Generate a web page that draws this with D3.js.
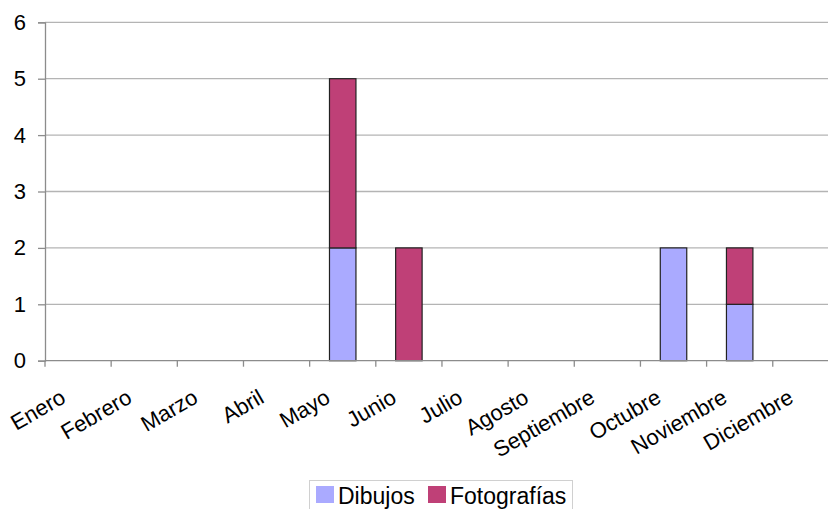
<!DOCTYPE html>
<html><head><meta charset="utf-8">
<script src="https://cdn.jsdelivr.net/npm/d3@7"></script>
<style>body{margin:0;background:#fff}svg{display:block}text{font-family:"Liberation Sans",Arial,sans-serif;fill:#000}</style>
</head><body><svg id="c" width="828" height="509"></svg>
<script>
const months = ["Enero","Febrero","Marzo","Abril","Mayo","Junio","Julio","Agosto","Septiembre","Octubre","Noviembre","Diciembre"];
const dibujos =     [0,0,0,0,2,0,0,0,0,2,1,0];
const fotografias = [0,0,0,0,3,2,0,0,0,0,1,0];
const seriesNames = ["Dibujos","Fotografías"];
const colors = ["#aaaaff","#bf4077"];
const yTicks = [0,1,2,3,4,5,6];

const svg = d3.select("#c");
const pL = 45, pR = 45 + 12*66.16, pT = 22.3, pB = 360.7;
const x = d3.scaleBand().domain(months).range([pL, pR]).paddingInner(0).paddingOuter(0);
const y = d3.scaleLinear().domain([0,6]).range([pB, pT]);

// grid
svg.append("g").selectAll("line").data(yTicks.filter(d=>d>0)).join("line")
  .attr("x1", pL).attr("x2", 828).attr("y1", d=>y(d)).attr("y2", d=>y(d))
  .attr("stroke","#b4b4b4").attr("stroke-width",1.3);

// y axis
const ya = svg.append("g").attr("transform",`translate(${pL},0)`)
  .call(d3.axisLeft(y).tickValues(yTicks).tickSize(7).tickPadding(12).tickFormat(d3.format("d")));
ya.select(".domain").attr("stroke","#8c8c8c").attr("stroke-width",1.3);
ya.selectAll(".tick line").attr("stroke","#8c8c8c").attr("stroke-width",1.3);
ya.selectAll(".tick text").attr("font-size",22).attr("font-family","Liberation Sans, Arial, sans-serif").attr("fill","#000");

// stacked bars
const table = months.map((m,i)=>({month:m, Dibujos:dibujos[i], "Fotografías":fotografias[i]}));
const stack = d3.stack().keys(seriesNames)(table);
const bw = x.bandwidth()*0.4;
svg.append("g").selectAll("g").data(stack).join("g")
  .attr("fill",(d,i)=>colors[i])
  .selectAll("rect").data(d=>d.filter(s=>s[1]-s[0]>0)).join("rect")
  .attr("x", d=>x(d.data.month)+ (x.bandwidth()-bw)/2)
  .attr("width", bw)
  .attr("y", d=>y(d[1]))
  .attr("height", d=>y(d[0])-y(d[1]))
  .attr("stroke","#222").attr("stroke-width",1.2);

// x axis
const xa = svg.append("g").attr("transform",`translate(0,${pB})`);
xa.append("line").attr("x1",pL).attr("x2",828).attr("stroke","#8c8c8c").attr("stroke-width",1.3);
const bounds = d3.range(13).map(i=> i<12 ? x(months[i]) : x(months[11])+x.bandwidth());
xa.selectAll("line.t").data(bounds).join("line").attr("class","t")
  .attr("x1",d=>d).attr("x2",d=>d).attr("y1",0).attr("y2",6)
  .attr("stroke","#8c8c8c").attr("stroke-width",1.3);
xa.selectAll("text").data(months).join("text")
  .attr("text-anchor","end").attr("font-size",22)
  .attr("transform", d=>`translate(${x(d)+x.bandwidth()/2-11},${41}) rotate(-30)`)
  .text(d=>d);

// legend
const lg = svg.append("g");
lg.append("rect").attr("x",309.5).attr("y",480.5).attr("width",263).attr("height",40)
  .attr("fill","#fff").attr("stroke","#d0d0d0");
const items = [{x:316, tx:338},{x:428, tx:450}];
seriesNames.forEach((s,i)=>{
  lg.append("rect").attr("x",items[i].x).attr("y",486).attr("width",18).attr("height",17).attr("fill",colors[i]);
  lg.append("text").attr("x",items[i].tx).attr("y",504).attr("font-size",23).text(s);
});
</script></body></html>
